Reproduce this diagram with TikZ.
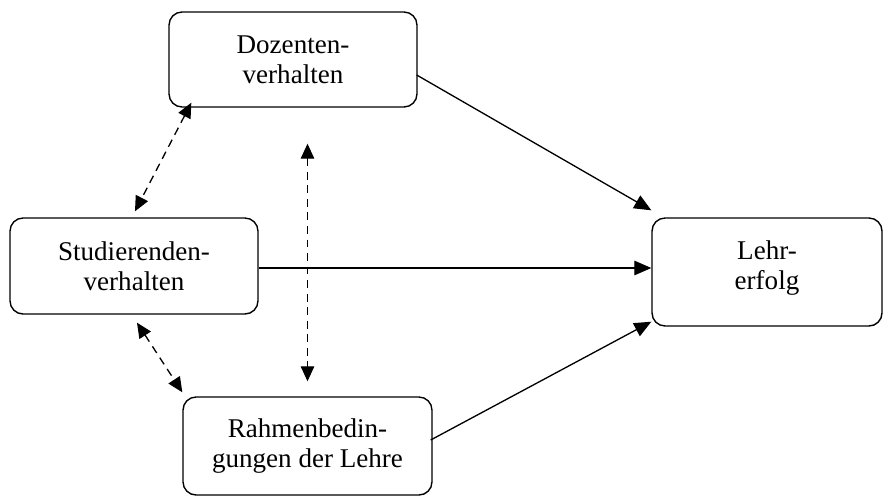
\documentclass[tikz,border=0pt]{standalone}
\usepackage{fontspec}
\setmainfont{Liberation Serif}
\usetikzlibrary{arrows.meta,calc}
\begin{document}
\begin{tikzpicture}[x=0.02cm, y=-0.02cm,
  box/.style={draw, line width=0.8pt, rounded corners=0.26cm, align=center, inner sep=0pt, font=\fontsize{15.4}{17.1}\selectfont},
  link/.style={line width=0.75pt, -{Triangle[length=0.34cm,width=0.29cm]}},
  dlink/.style={line width=0.75pt, dash pattern=on 4.5pt off 3.2pt, {Triangle[length=0.3cm,width=0.27cm]}-{Triangle[length=0.3cm,width=0.27cm]}}]
\useasboundingbox (0,0) rectangle (888,500);
\node[box, minimum width=4.96cm, minimum height=1.9cm] (doz) at (293,59.5) {Dozenten-\\verhalten};
\node[box, minimum width=4.96cm, minimum height=1.92cm] (stud) at (134,266) {Studierenden-\\verhalten};
\node[box, minimum width=4.6cm, minimum height=2.16cm] (lehr) at (767,272) {Lehr-\\erfolg\\[-9pt]};
\node[box, minimum width=4.98cm, minimum height=1.96cm] (rahmen) at (307.5,446) {Rahmenbedin-\\gungen der Lehre};
\draw[link] ($(doz.east)+(-1,15.5)$) -- ($(lehr.north west)+(0,-7)$);
\draw[link] ($(stud.east)+(0,2)$) -- ($(stud.east -| lehr.west)+(0,2)$);
\draw[link] ($(rahmen.east)+(-2,-6)$) -- ($(lehr.south west)+(0,-5)$);
\draw[dlink] ($(doz.south west)+(23,-5)$) -- ($(stud.north)+(1,-6)$);
\draw[dlink] ($(stud.south)+(3,8)$) -- ($(rahmen.north west)+(0,-4)$);
\draw[dlink] ($(rahmen.north |- doz.south)+(0,36)$) -- ($(rahmen.north)+(0,-15)$);
\end{tikzpicture}
\end{document}
